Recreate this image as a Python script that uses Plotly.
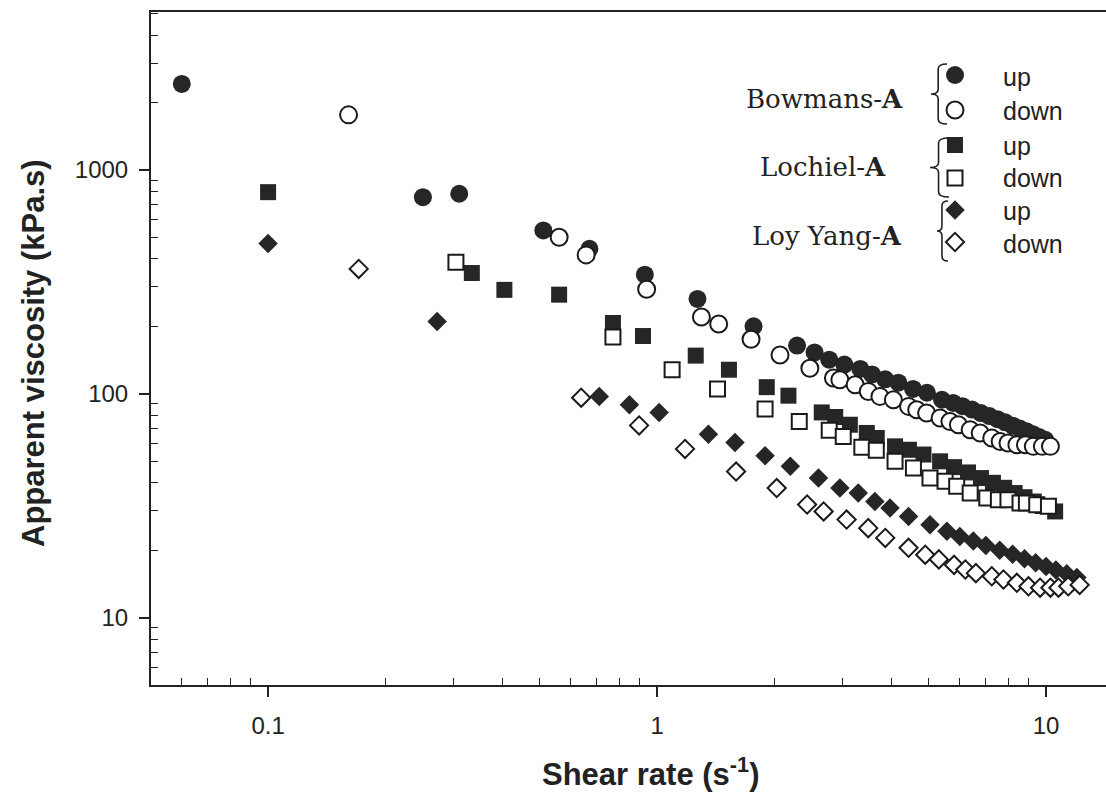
import plotly.graph_objects as go

# ---------------- data ----------------
bowmans_up_x = [0.06, 0.25, 0.31, 0.51, 0.67, 0.93, 1.27, 1.77, 2.29, 2.54, 2.77, 3.03, 3.33, 3.57,
                3.86, 4.17, 4.55, 4.94, 5.40, 5.77, 6.1, 6.45, 6.8, 7.15, 7.5, 7.85, 8.2, 8.55,
                8.9, 9.25, 9.6, 9.95]
bowmans_up_y = [2420, 755, 782, 536, 444, 340, 265, 200, 164, 153, 142, 135, 129, 122,
                116, 112, 105, 101, 94, 91, 88, 85, 82, 79.5, 77, 74.5, 72, 70,
                68, 66, 64, 62.3]

bowmans_down_x = [0.161, 0.56, 0.657, 0.94, 1.30, 1.44, 1.744, 2.07, 2.47, 2.84, 2.95, 3.23, 3.49,
                  3.74, 4.05, 4.43, 4.65, 4.93, 5.34, 5.66, 5.95, 6.38, 6.77, 7.25, 7.62, 7.98,
                  8.41, 8.85, 9.27, 9.78, 10.26]
bowmans_down_y = [1760, 500, 417, 293, 220, 205, 175, 149, 130, 117.5, 115.5, 109.7, 102.4,
                  97.3, 94, 87.8, 84.8, 82, 77.9, 75.2, 72.7, 69, 66.8, 63.4, 61.2, 60.2,
                  59.2, 59.2, 58.2, 58.2, 58.2]

lochiel_up_x = [0.1, 0.334, 0.405, 0.56, 0.77, 0.92, 1.257, 1.53, 1.914, 2.176, 2.65, 2.87, 3.13,
                3.46, 3.67, 4.09, 4.44, 4.84, 5.34, 5.8, 6.3, 6.8, 7.3, 7.8, 8.3, 8.8, 9.3, 9.8, 10.55]
lochiel_up_y = [795, 346, 291, 277, 207, 181, 148, 128, 107, 98, 82.5, 78.7, 72.7,
                66.8, 63.4, 58.2, 56.2, 53.5, 49.9, 47, 44.5, 42, 40, 38, 36, 34.5, 33, 31.5, 29.8]

lochiel_down_x = [0.304, 0.77, 1.093, 1.43, 1.895, 2.32, 2.77, 3.01, 3.36, 3.66, 4.09, 4.56, 5.03,
                  5.50, 5.89, 6.38, 7.04, 7.54, 7.98, 8.57, 8.9, 9.46, 10.14]
lochiel_down_y = [387, 179, 128, 105, 85.5, 75.2, 68.6, 64.4, 57.6, 55.9, 49.9, 46.6, 42,
                  40.6, 38.6, 36, 34.2, 33.6, 33.6, 32.5, 32.5, 31.9, 31.4]

loyyang_up_x = [0.1, 0.272, 0.71, 0.849, 1.012, 1.355, 1.586, 1.895, 2.2, 2.6, 2.95, 3.29, 3.63,
                3.97, 4.43, 5.03, 5.56, 6.0, 6.5, 7.0, 7.6, 8.2, 8.8, 9.4, 10.0, 10.6, 11.3, 12.0]
loyyang_up_y = [469, 210, 97.3, 89.3, 82.5, 66, 60.6, 52.9, 47.4, 42, 37.9, 36, 33,
                30.9, 28.3, 26, 24.3, 23, 22, 21, 20, 19.2, 18.3, 17.6, 16.9, 16.3, 15.7, 15.1]

loyyang_down_x = [0.171, 0.638, 0.899, 1.18, 1.596, 2.03, 2.43, 2.68, 3.07, 3.49, 3.86, 4.43, 4.89,
                  5.3, 5.8, 6.2, 6.6, 7.25, 7.77, 8.41, 9.01, 9.65, 10.26, 10.76, 11.4, 12.2]
loyyang_down_y = [361, 96, 72.2, 56.7, 44.9, 37.9, 32, 29.8, 27.4, 25.1, 22.7, 20.5, 19.1,
                  18.2, 17.2, 16.4, 15.8, 15.3, 14.8, 14.3, 13.8, 13.6, 13.6, 13.6, 13.8, 14.0]

x_tick_vals = [0.1, 1, 10]
x_tick_text = ["0.1", "1", "10"]
y_tick_vals = [10, 100, 1000]
y_tick_text = ["10", "100", "1000"]
x_minor = [0.05, 0.06, 0.07, 0.08, 0.09, 0.2, 0.3, 0.4, 0.5, 0.6, 0.7, 0.8, 0.9,
           2, 3, 4, 5, 6, 7, 8, 9]
y_minor = [5, 6, 7, 8, 9, 20, 30, 40, 50, 60, 70, 80, 90,
           200, 300, 400, 500, 600, 700, 800, 900, 2000, 3000, 4000, 5000]

group_labels = ["Bowmans-<b>A</b>", "Lochiel-<b>A</b>", "Loy Yang-<b>A</b>"]
state_labels = ["up", "down"]
x_title = "Shear rate (s<sup>-1</sup>)"
y_title = "Apparent viscosity (kPa.s)"

# ---------------- layout geometry ----------------
W, H = 1106, 803
ML, MR, MT, MB = 151, 0, 12, 118
PW, PH = W - ML - MR, H - MT - MB


def pxx(x):
    return (x - ML) / PW


def pxy(y):
    return (H - MB - y) / PH


FILL = "#262626"
EDGE = "#1a1a1a"
TXT = "#222222"

fig = go.Figure()

series = [
    (bowmans_up_x, bowmans_up_y, "circle", True, 18),
    (bowmans_down_x, bowmans_down_y, "circle", False, 17),
    (lochiel_up_x, lochiel_up_y, "square", True, 16),
    (lochiel_down_x, lochiel_down_y, "square", False, 15),
    (loyyang_up_x, loyyang_up_y, "diamond", True, 15),
    (loyyang_down_x, loyyang_down_y, "diamond", False, 14),
]


def mk(sym, filled, size):
    return dict(symbol=sym, size=size,
                color=FILL if filled else "white",
                line=dict(color=EDGE, width=0 if filled else 2))


for xs, ys, sym, filled, size in series:
    fig.add_trace(go.Scatter(x=xs, y=ys, mode="markers", marker=mk(sym, filled, size),
                             showlegend=False, hoverinfo="skip"))

# ---------------- custom legend ----------------
leg_marker_px = [(955, 75), (955, 110), (955, 145), (955, 178), (955, 210), (955, 242)]
for (xs, ys, sym, filled, size), (lx, ly) in zip(series, leg_marker_px):
    fig.add_trace(go.Scatter(x=[pxx(lx)], y=[pxy(ly)], mode="markers",
                             marker=mk(sym, filled, size), xaxis="x2", yaxis="y2",
                             showlegend=False, hoverinfo="skip"))

annotations = []
group_pos = [(824, 99), (823, 167), (827, 236)]
for txt, (gx, gy) in zip(group_labels, group_pos):
    annotations.append(dict(x=pxx(gx), y=pxy(gy), xref="paper", yref="paper", text=txt,
                            showarrow=False, xanchor="center", yanchor="middle",
                            font=dict(family="DejaVu Serif", size=26, color=TXT)))
state_pos_y = [77, 111, 146, 178, 211, 244]
for i, sy in enumerate(state_pos_y):
    annotations.append(dict(x=pxx(1001), y=pxy(sy), xref="paper", yref="paper",
                            text=state_labels[i % 2], showarrow=False,
                            xanchor="left", yanchor="middle",
                            font=dict(family="Liberation Sans", size=25, color=TXT)))

# axis titles
annotations.append(dict(x=pxx(650), y=pxy(772), xref="paper", yref="paper", text=x_title,
                        showarrow=False, xanchor="center", yanchor="middle",
                        font=dict(family="Liberation Sans", size=31, color=TXT, weight="bold")))
annotations.append(dict(x=pxx(33), y=pxy(353), xref="paper", yref="paper", text=y_title,
                        showarrow=False, xanchor="center", yanchor="middle", textangle=-90,
                        font=dict(family="Liberation Sans", size=31, color=TXT, weight="bold")))


def brace(xr, xl, yt, yb):
    xm = xl + (xr - xl) * 0.45
    ym = (yt + yb) / 2
    r = 5
    pts = [
        ("M", [(xr, yt)]),
        ("Q", [(xm, yt), (xm, yt + r)]),
        ("L", [(xm, ym - r)]),
        ("Q", [(xm, ym), (xl, ym)]),
        ("Q", [(xm, ym), (xm, ym + r)]),
        ("L", [(xm, yb - r)]),
        ("Q", [(xm, yb), (xr, yb)]),
    ]
    s = ""
    for cmd, ps in pts:
        s += cmd + " " + " ".join(f"{pxx(a):.5f},{pxy(b):.5f}" for a, b in ps) + " "
    return dict(type="path", path=s.strip(), xref="paper", yref="paper",
                line=dict(color=TXT, width=1.6))


shapes = [brace(947, 931, 64, 124), brace(949, 930, 138, 197), brace(948, 937, 201, 261)]

axis_common = dict(type="log", showline=True, linecolor="#222", linewidth=2,
                   showgrid=False, zeroline=False, ticks="outside", ticklen=10,
                   tickwidth=1.5, tickcolor="#222",
                   tickfont=dict(family="Liberation Sans", size=24, color=TXT))

fig.update_layout(
    width=W, height=H,
    margin=dict(l=ML, r=MR, t=MT, b=MB),
    paper_bgcolor="white", plot_bgcolor="white",
    showlegend=False,
    xaxis=dict(axis_common, range=[-1.301, 1.154], mirror=True,
               tickmode="array", tickvals=x_tick_vals, ticktext=x_tick_text,
               ticklabelstandoff=8,
               minor=dict(tickmode="array", tickvals=x_minor, ticks="inside", ticklen=7,
                          tickwidth=1.2, tickcolor="#222")),
    yaxis=dict(axis_common, range=[0.699, 3.705], mirror=False,
               tickmode="array", tickvals=y_tick_vals, ticktext=y_tick_text,
               ticklabelstandoff=6,
               minor=dict(tickmode="array", tickvals=y_minor, ticks="inside", ticklen=7,
                          tickwidth=1.2, tickcolor="#222")),
    xaxis2=dict(overlaying="x", range=[0, 1], visible=False, fixedrange=True),
    yaxis2=dict(overlaying="y", range=[0, 1], visible=False, fixedrange=True),
    annotations=annotations,
    shapes=shapes,
)

fig.write_html("out.html")
